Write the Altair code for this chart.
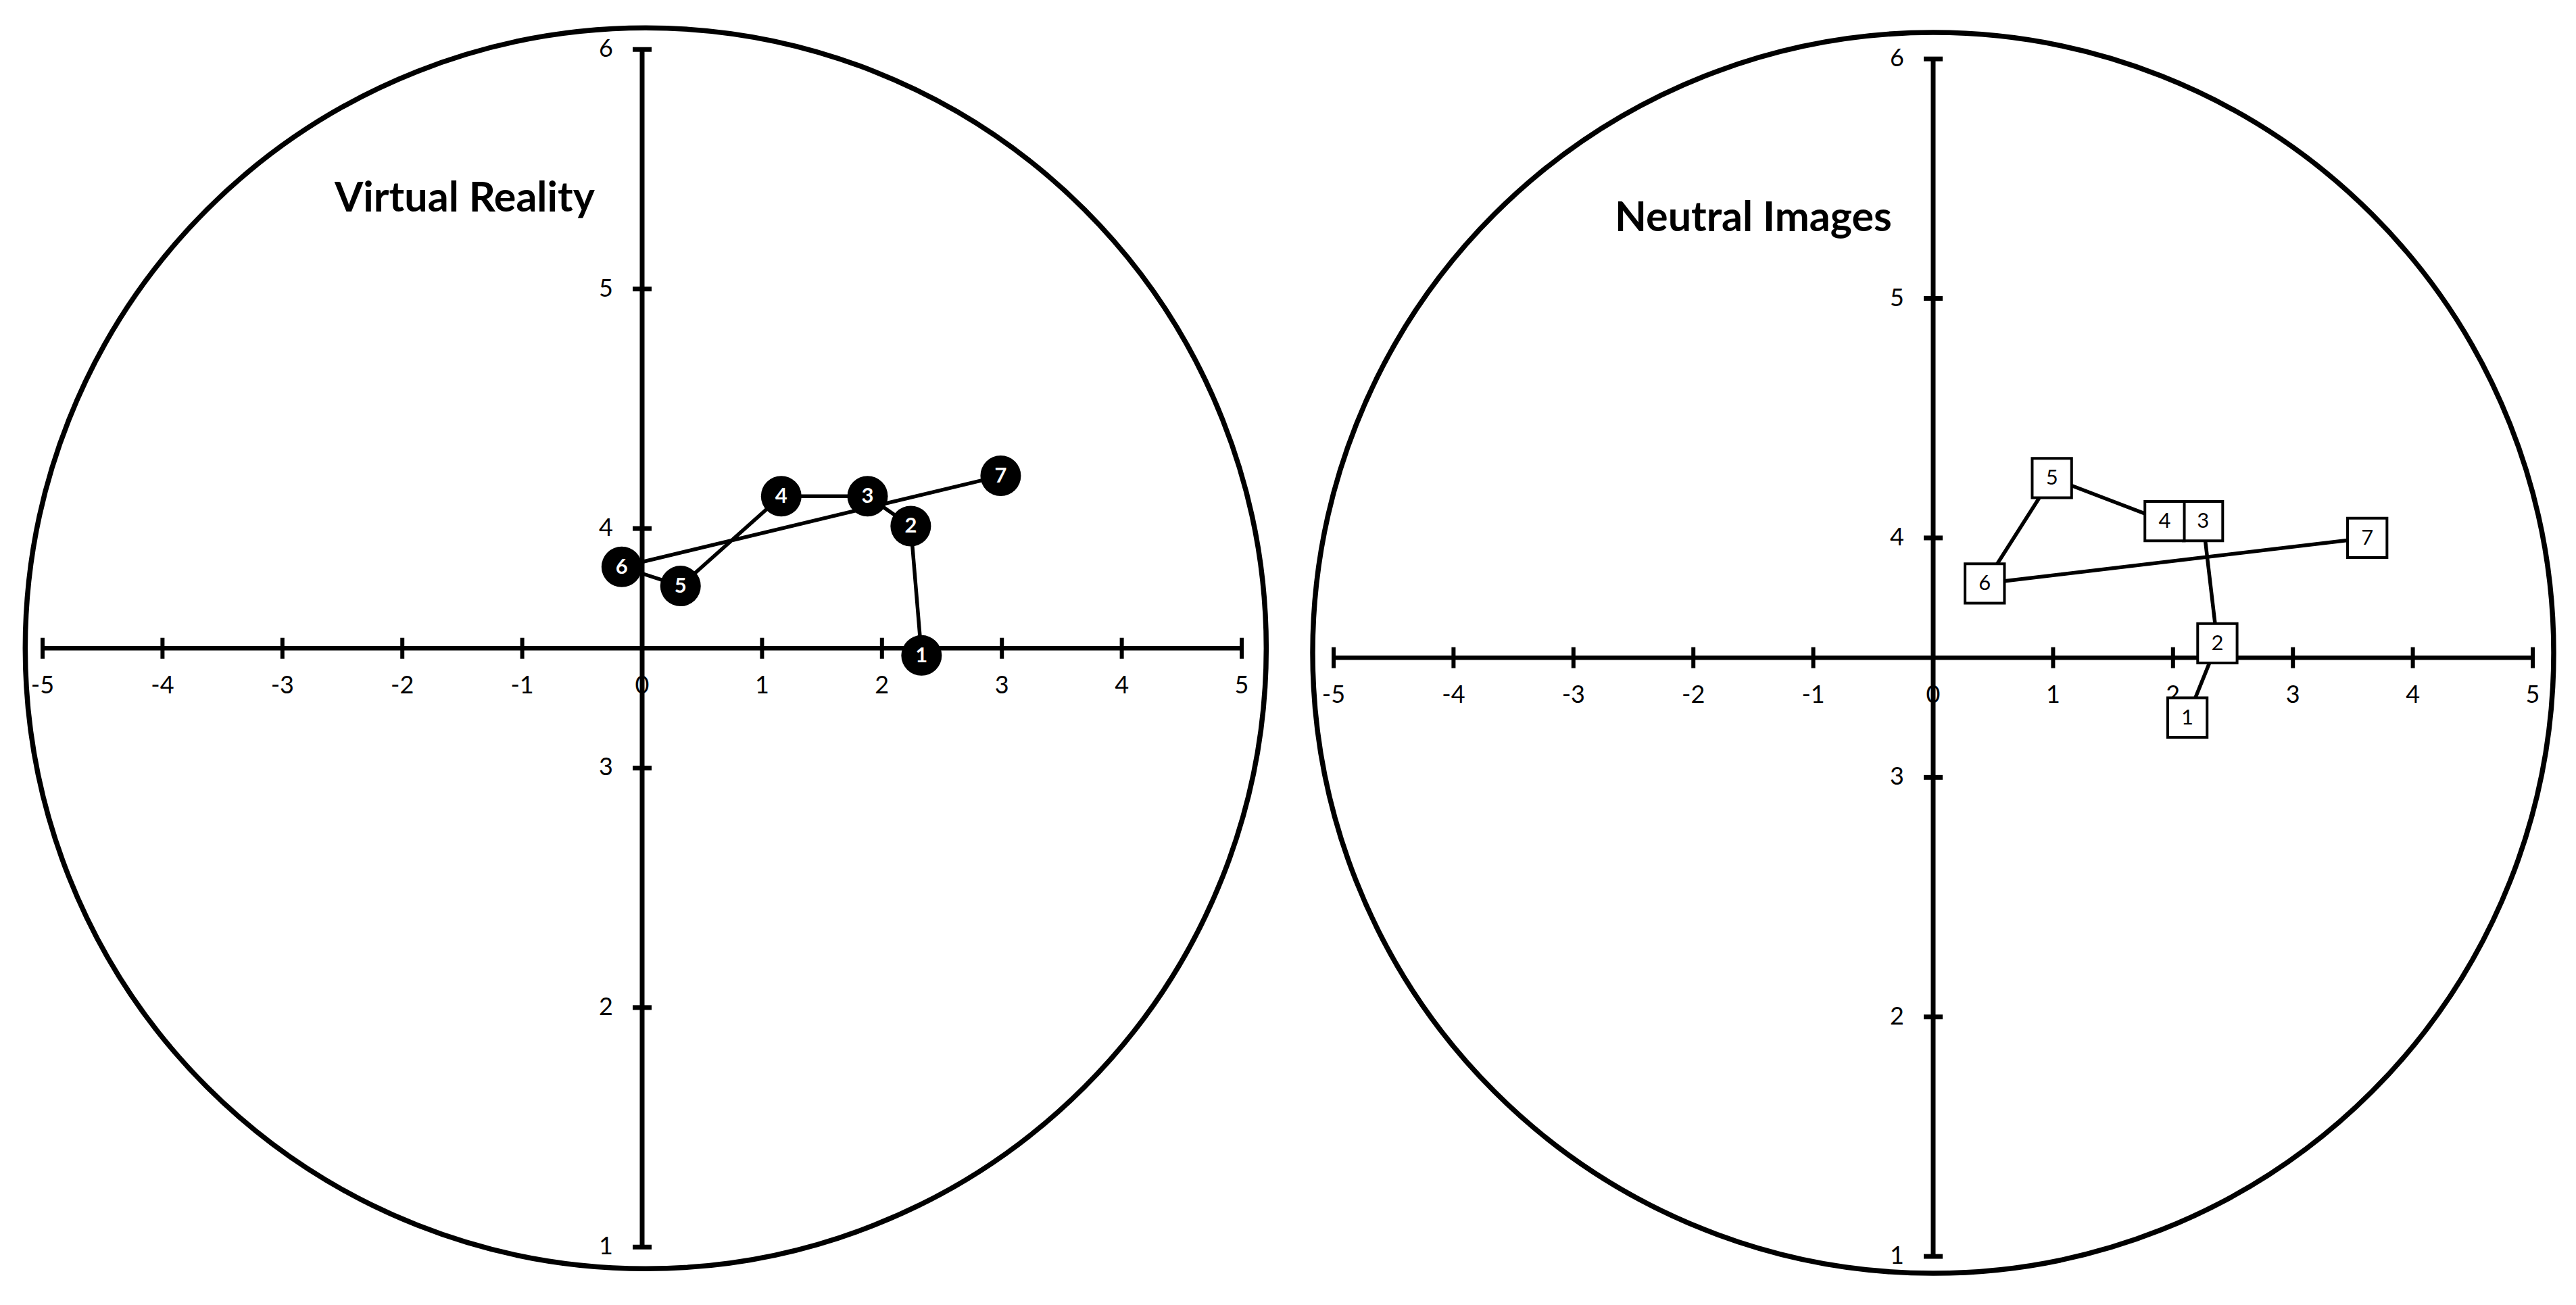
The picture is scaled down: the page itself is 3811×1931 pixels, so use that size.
import altair as alt
import pandas as pd

# ---- data ----
point_labels = ["1", "2", "3", "4", "5", "6", "7"]
vr_x = [2.33, 2.24, 1.88, 1.16, 0.32, -0.17, 2.99]
vr_y = [3.47, 4.01, 4.135, 4.135, 3.76, 3.84, 4.22]
ni_x = [2.12, 2.37, 2.25, 1.93, 0.99, 0.43, 3.62]
ni_y = [3.25, 3.56, 4.07, 4.07, 4.25, 3.81, 4.00]
x_ticks = [-5, -4, -3, -2, -1, 0, 1, 2, 3, 4, 5]
y_ticks = [1, 2, 3, 4, 5, 6]
titles = ["Virtual Reality", "Neutral Images"]

FONT = "Lato"
W = 1884
H = 1900
XDOM = [-5.31, 5.31]
CIRCLE_R = 918


def make_panel(xs_, ys_, title, ydom, style, title_x, title_y, circ_x, circ_y):
    sx = alt.Scale(domain=XDOM, nice=False, zero=False)
    sy = alt.Scale(domain=ydom, nice=False, zero=False)

    def X(field=None, datum=None):
        if datum is not None:
            return alt.XDatum(datum, axis=None, scale=sx)
        return alt.X(field, type="quantitative", axis=None, scale=sx)

    def Y(field=None, datum=None):
        if datum is not None:
            return alt.YDatum(datum, axis=None, scale=sy)
        return alt.Y(field, type="quantitative", axis=None, scale=sy)

    pts = pd.DataFrame({"x": xs_, "y": ys_, "label": point_labels,
                        "order": list(range(1, len(xs_) + 1))})
    xt = pd.DataFrame({"v": x_ticks, "lbl": [str(v) for v in x_ticks]})
    yt = pd.DataFrame({"v": y_ticks, "lbl": [str(v) for v in y_ticks]})
    one = alt.Data(values=[{}])

    circle = alt.Chart(one).mark_point(
        shape="circle", filled=False, size=(2 * CIRCLE_R) ** 2,
        strokeWidth=7.5, color="black", opacity=1
    ).encode(x=X(datum=circ_x), y=Y(datum=circ_y))

    hline = alt.Chart(one).mark_rule(color="black", strokeWidth=6.5).encode(
        x=X(datum=-5), x2=alt.X2Datum(5), y=Y(datum=3.5))
    vline = alt.Chart(one).mark_rule(color="black", strokeWidth=7).encode(
        x=X(datum=0), y=Y(datum=1), y2=alt.Y2Datum(6))

    xtick = alt.Chart(xt).mark_tick(orient="vertical", size=31, thickness=6,
                                    color="black", opacity=1).encode(
        x=X("v"), y=Y(datum=3.5))
    ytick = alt.Chart(yt).mark_tick(orient="horizontal", size=28, thickness=7,
                                    color="black", opacity=1).encode(
        x=X(datum=0), y=Y("v"))

    xlab = alt.Chart(xt).mark_text(font=FONT, fontSize=36, color="black",
                                   align="center", baseline="middle", dy=56).encode(
        x=X("v"), y=Y(datum=3.5), text="lbl:N")
    ylab = alt.Chart(yt).mark_text(font=FONT, fontSize=36, color="black",
                                   align="right", baseline="middle", dx=-43).encode(
        x=X(datum=0), y=Y("v"), text="lbl:N")

    line = alt.Chart(pts).mark_line(color="black", strokeWidth=5.5).encode(
        x=X("x"), y=Y("y"), order="order:Q")

    if style == "circle":
        marks = alt.Chart(pts).mark_point(shape="circle", filled=True, size=3600,
                                          color="black", opacity=1).encode(
            x=X("x"), y=Y("y"))
        mlab = alt.Chart(pts).mark_text(font=FONT, fontSize=31, fontWeight="bold",
                                        color="white", align="center",
                                        baseline="middle", dy=1).encode(
            x=X("x"), y=Y("y"), text="label:N")
    else:
        marks = alt.Chart(pts).mark_point(shape="square", filled=True, size=3400,
                                          fill="white", stroke="black",
                                          strokeWidth=4, opacity=1).encode(
            x=X("x"), y=Y("y"))
        mlab = alt.Chart(pts).mark_text(font=FONT, fontSize=31, color="black",
                                        align="center", baseline="middle",
                                        dy=1).encode(
            x=X("x"), y=Y("y"), text="label:N")

    ttl = alt.Chart(one).mark_text(font=FONT, fontSize=61, fontWeight="bold",
                                   color="black", align="center",
                                   baseline="alphabetic").encode(
        x=X(datum=title_x), y=Y(datum=title_y), text=alt.value(title))

    return alt.layer(circle, hline, vline, xtick, ytick, xlab, ylab, line,
                     marks, mlab, ttl).properties(width=W, height=H)


left = make_panel(vr_x, vr_y, titles[0], [0.823, 6.184], "circle",
                  -1.48, 5.323, 0.03, 3.5)
right = make_panel(ni_x, ni_y, titles[1], [0.862, 6.2235], "square",
                   -1.5, 5.28, 0.0, 3.52)

chart = alt.hconcat(left, right, spacing=26).properties(
    padding={"left": 0, "top": 0, "right": 0, "bottom": 0},
    background="white"
).configure_view(strokeWidth=0)

chart.save("out.html", embed_options={"renderer": "svg", "actions": False})
